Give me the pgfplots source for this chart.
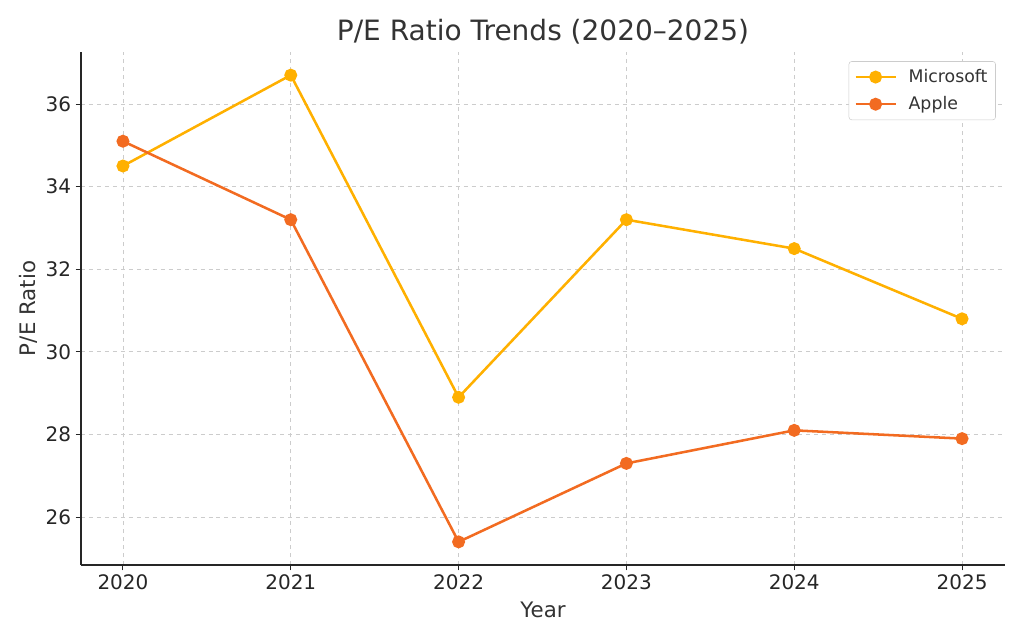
\documentclass[border=0pt]{standalone}
\usepackage{fontspec}
\setmainfont{DejaVu Sans}
\usepackage{pgfplots}
\pgfplotsset{compat=1.18}
\definecolor{msft}{HTML}{FFB000}
\definecolor{aapl}{HTML}{F26B21}
\definecolor{txt}{HTML}{333333}
\definecolor{gridc}{HTML}{CCCCCC}
\begin{document}
\begin{tikzpicture}
  \begin{axis}[
    scale only axis,
    width=693bp, height=384.75bp,
    xmin=2019.75, xmax=2025.256,
    ymin=24.84, ymax=37.26,
    xtick={2020,2021,2022,2023,2024,2025},
    ytick={26,28,30,32,34,36},
    xticklabel style={/pgf/number format/1000 sep={}},
    /pgf/number format/assume math mode=true,
    tick label style={font=\fontsize{15bp}{17bp}\selectfont, text=black!85},
    axis x line*=bottom, axis y line*=left,
    axis line style={line width=0.9bp, black!85, -},
    tick style={line width=0.8bp, black!85},
    major tick length=4bp,
    tick align=outside,
    grid=major,
    major grid style={dashed, gridc, line width=0.6bp},
    xlabel={Year}, ylabel={P/E Ratio},
    label style={font=\fontsize{16bp}{18bp}\selectfont, text=txt},
    xlabel style={yshift=-2bp},
    ylabel style={yshift=-1bp},
    title={P/E Ratio Trends (2020–2025)},
    title style={font=\fontsize{21bp}{24bp}\selectfont, text=txt, yshift=-4bp},
    legend style={at={(0.990,0.982)}, anchor=north east, draw=gridc, rounded corners=2bp,
      font=\fontsize{13bp}{15bp}\selectfont, text=txt, row sep=5bp, inner xsep=4bp, inner ysep=4bp},
    legend cell align=left,
    legend image code/.code={
      \draw[line width=1.9bp, mark repeat=2, mark phase=2] plot coordinates {(0cm,0cm) (0.53cm,0cm) (1.06cm,0cm)};
      \path (1.3cm,0cm);},
  ]
    \addplot[color=msft, line width=1.9bp, mark=*, mark size=3.9bp, mark options={solid}] coordinates {
      (2020,34.5) (2021,36.7) (2022,28.9) (2023,33.2) (2024,32.5) (2025,30.8)};
    \addlegendentry{Microsoft}
    \addplot[color=aapl, line width=1.9bp, mark=*, mark size=3.9bp, mark options={solid}] coordinates {
      (2020,35.1) (2021,33.2) (2022,25.4) (2023,27.3) (2024,28.1) (2025,27.9)};
    \addlegendentry{Apple}
    \coordinate (sw) at (rel axis cs:0,0);
    \coordinate (ne) at (rel axis cs:1,1);
  \end{axis}
  \pgfresetboundingbox
  \path ([shift={(-60.75bp,-56.25bp)}]sw) rectangle ([shift={(14.25bp,39bp)}]ne);
\end{tikzpicture}
\end{document}
